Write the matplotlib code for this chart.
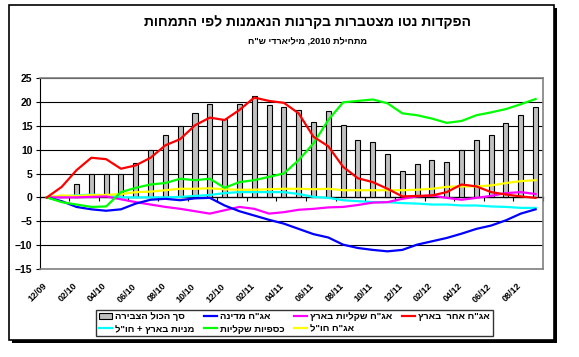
import numpy as np
import matplotlib
matplotlib.use('Agg')
import matplotlib.pyplot as plt
from matplotlib.patches import Rectangle, Patch
from matplotlib.lines import Line2D
from matplotlib.transforms import ScaledTranslation

plt.rcParams['font.family'] = ['Liberation Sans', 'DejaVu Sans']
plt.rcParams['font.weight'] = 'bold'


def heb(s):
    # matplotlib has no bidi support: reverse, then put digit runs back in order
    r = s[::-1]
    out, buf = '', ''
    for ch in r:
        if ch.isdigit():
            buf += ch
        else:
            out += buf[::-1] + ch
            buf = ''
    return out + buf[::-1]


months = ['12/09', '01/10', '02/10', '03/10', '04/10', '05/10', '06/10', '07/10', '08/10', '09/10',
          '10/10', '11/10', '12/10', '01/11', '02/11', '03/11', '04/11', '05/11', '06/11', '07/11',
          '08/11', '09/11', '10/11', '11/11', '12/11', '01/12', '02/12', '03/12', '04/12', '05/12',
          '06/12', '07/12', '08/12', '09/12']

total = [0, 0.6, 2.9, 5.0, 5.0, 5.0, 7.3, 9.9, 13.0, 15.0, 17.6, 19.5, 16.5, 19.5, 21.2, 19.3, 19.0,
         18.2, 15.7, 18.1, 15.1, 12.1, 11.5, 9.0, 5.6, 6.9, 7.8, 7.5, 10.0, 12.1, 13.0, 15.5, 17.2, 19.0]
gov = [0, -0.8, -2.0, -2.5, -2.8, -2.5, -1.3, -0.5, -0.3, -0.6, -0.2, -0.1, -1.7, -2.9, -3.8, -4.7, -5.5,
       -6.6, -7.7, -8.4, -9.9, -10.6, -11.0, -11.3, -11.0, -9.9, -9.2, -8.5, -7.6, -6.6, -5.9, -4.8, -3.4, -2.5]
shekel = [0, 0.0, 0.0, 0.1, 0.2, -0.4, -1.0, -1.5, -2.0, -2.4, -2.9, -3.4, -2.7, -2.0, -2.4, -3.4, -3.1,
          -2.6, -2.4, -2.1, -2.0, -1.6, -1.1, -1.0, -0.3, 0.2, 0.4, -0.1, -0.5, -0.1, 0.3, 0.9, 1.1, 0.7]
other = [0, 2.2, 5.7, 8.3, 8.0, 6.0, 6.7, 8.3, 10.9, 12.2, 15.1, 16.7, 16.2, 18.3, 20.9, 20.2, 19.8,
         17.6, 12.7, 10.7, 6.4, 4.0, 3.2, 1.8, 0.2, 0.3, 0.4, 1.1, 2.7, 2.3, 1.1, 0.6, 0.2, -0.1]
stocks = [0, 0.2, 0.4, 0.6, 0.4, 0.0, 0.0, 0.0, 0.0, 0.1, 0.3, 0.5, 0.9, 1.1, 1.1, 1.1, 1.1,
          0.7, 0.1, -0.1, -0.6, -0.8, -1.0, -1.0, -1.2, -1.3, -1.5, -1.5, -1.7, -1.7, -1.9, -2.0, -2.2, -2.2]
money = [0, -1.0, -1.5, -2.0, -1.9, 1.1, 2.0, 2.7, 3.0, 3.9, 3.6, 3.9, 2.0, 3.2, 3.6, 4.3, 5.0,
         7.8, 11.3, 16.2, 19.9, 20.2, 20.5, 19.7, 17.6, 17.2, 16.5, 15.6, 16.0, 17.2, 17.8, 18.5, 19.5, 20.6]
abroad = [0, 0.4, 0.3, 0.5, 0.5, 0.7, 1.1, 1.2, 1.5, 1.8, 1.8, 1.9, 1.7, 1.6, 1.6, 1.7, 1.8,
          1.8, 1.7, 1.8, 1.5, 1.5, 1.5, 1.5, 1.5, 1.6, 1.8, 2.2, 2.3, 2.3, 2.5, 3.0, 3.4, 3.6]

x = np.arange(len(months))

fig = plt.figure(figsize=(5.79, 3.57), dpi=100)
W, H = 579.0, 357.0

# chart frame with shadow
fig.patches.append(Rectangle((12 / W, 1 - 343 / H), 545 / W, 335 / H, transform=fig.transFigure,
                             facecolor='black', edgecolor='none', zorder=-3))
fig.patches.append(Rectangle((9 / W, 1 - 340 / H), 545 / W, 335 / H, transform=fig.transFigure,
                             facecolor='white', edgecolor='black', lw=1.2, zorder=-2))

ax = fig.add_axes([39.5 / W, 1 - 269 / H, 503.5 / W, 191 / H])
ax.set_facecolor('white')

ax.bar(x, total, width=0.34, color='#C0C0C0', edgecolor='black', linewidth=0.8, zorder=2)
lw = 1.6
ax.plot(x, stocks, color='#00FFFF', lw=lw, zorder=3)
ax.plot(x, abroad, color='#FFFF00', lw=lw, zorder=3)
ax.plot(x, shekel, color='#FF00FF', lw=lw, zorder=3)
ax.plot(x, gov, color='#0000FF', lw=lw, zorder=3)
ax.plot(x, money, color='#00FF00', lw=lw, zorder=3)
ax.plot(x, other, color='#FF0000', lw=lw, zorder=3)

ax.set_xlim(-0.5, len(months) - 0.5)
ax.set_ylim(-15, 25)
ax.set_yticks(np.arange(-15, 26, 5))
ax.yaxis.grid(True, color='black', lw=0.8, zorder=1)
ax.set_axisbelow(True)
ax.tick_params(axis='y', labelsize=7.5, length=3, width=0.8, pad=2)
for lab in ax.get_yticklabels():
    lab.set_fontweight('bold')

ax.set_xticks(x[::2])
ax.set_xticklabels(months[::2], rotation=45, ha='right', va='top', rotation_mode='anchor',
                   fontsize=6.5, fontweight='bold')
ax.tick_params(axis='x', length=0, pad=9)
shift = ScaledTranslation(-4 / 100, 0, fig.dpi_scale_trans)
for lab in ax.get_xticklabels():
    lab.set_transform(lab.get_transform() + shift)

for s in ['top', 'right', 'bottom']:
    ax.spines[s].set_color('#808080')
    ax.spines[s].set_linewidth(1.2)
ax.spines['left'].set_color('black')

# category axis line at zero
sec = ax.secondary_xaxis(15 / 40)
sec.set_xticks(np.arange(-0.5, len(months), 2))
sec.set_xticklabels([])
sec.tick_params(length=3, width=0.8, direction='out', color='black')
sec.spines['bottom'].set_color('black')
sec.spines['bottom'].set_linewidth(0.9)

fig.text(307 / W, 1 - 22 / H, heb('הפקדות נטו מצטברות בקרנות הנאמנות לפי התמחות'),
         ha='center', va='center', fontsize=10, fontweight='bold')
fig.text(307 / W, 1 - 42 / H, heb('מתחילת 2010, מיליארדי ש"ח'),
         ha='center', va='center', fontsize=6.6, fontweight='bold')

handles = [
    Patch(facecolor='#C0C0C0', edgecolor='black', lw=0.8),
    Line2D([], [], color='#00FFFF', lw=lw),
    Line2D([], [], color='#0000FF', lw=lw),
    Line2D([], [], color='#00FF00', lw=lw),
    Line2D([], [], color='#FF00FF', lw=lw),
    Line2D([], [], color='#FFFF00', lw=lw),
    Line2D([], [], color='#FF0000', lw=lw),
]
labels = [heb('סך הכול הצבירה'), heb('מניות בארץ + חו"ל'), heb('אג"ח מדינה'), heb('כספיות שקליות'),
          heb('אג"ח שקליות בארץ'), heb('אג"ח חו"ל'), heb('אג"ח אחר  בארץ')]
leg = fig.legend(handles, labels, ncol=4, loc='center', bbox_to_anchor=(294.5 / W, 1 - 323 / H),
                 prop={'size': 6.8, 'weight': 'bold'}, frameon=True, fancybox=False,
                 edgecolor='black', handlelength=1.4, handleheight=0.7, handletextpad=0.3,
                 columnspacing=1.0, labelspacing=0.35, borderpad=0.3)
leg.get_frame().set_linewidth(1.0)

fig.savefig('out.png', dpi=100)
